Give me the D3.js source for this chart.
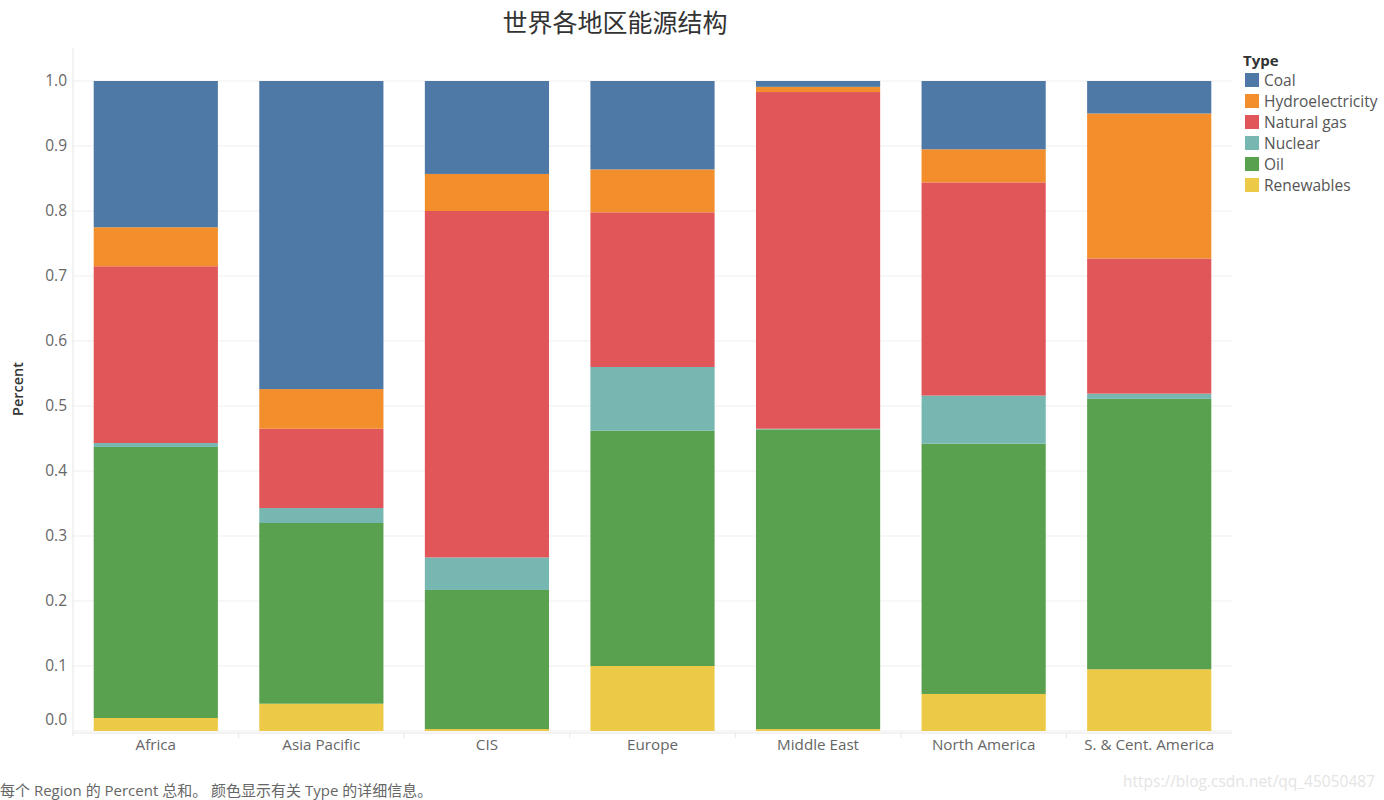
<!DOCTYPE html>
<html><head><meta charset="utf-8">
<script src="https://cdn.jsdelivr.net/npm/d3@7"></script>
<style>
body{margin:0;background:#fff;}
text{font-family:"Open Sans","Noto Sans","Noto Sans CJK SC",sans-serif;}
</style></head>
<body><svg id="c" width="1384" height="800"></svg>
<script>
const regions = ["Africa","Asia Pacific","CIS","Europe","Middle East","North America","S. & Cent. America"];
const types = ["Coal","Hydroelectricity","Natural gas","Nuclear","Oil","Renewables"];
const stackOrder = ["Renewables","Oil","Nuclear","Natural gas","Hydroelectricity","Coal"];
const colors = ["#4e79a7","#f28e2b","#e15759","#76b7b2","#59a14f","#edc948"];
// values per region, in the order of `regions`
const coal       = [0.225,0.474,0.143,0.136,0.009,0.105,0.050];
const hydro      = [0.060,0.061,0.057,0.066,0.008,0.051,0.223];
const naturalGas = [0.272,0.122,0.533,0.238,0.518,0.328,0.208];
const nuclear    = [0.006,0.023,0.050,0.098,0.001,0.074,0.008];
const oil        = [0.417,0.278,0.214,0.362,0.461,0.385,0.416];
const renewables = [0.020,0.042,0.003,0.100,0.003,0.057,0.095];
const yTicks = [0,0.1,0.2,0.3,0.4,0.5,0.6,0.7,0.8,0.9,1.0];

const seriesMap = {"Coal":coal,"Hydroelectricity":hydro,"Natural gas":naturalGas,"Nuclear":nuclear,"Oil":oil,"Renewables":renewables};
const table = regions.map((r,i)=>{const o={region:r}; types.forEach(t=>o[t]=seriesMap[t][i]); return o;});

const svg = d3.select("#c");
const mLeft = 73, mRight = 1232, mTop = 48;
const x = d3.scaleBand().domain(regions).range([mLeft,mRight]).paddingInner(0.25).paddingOuter(0.125);
const y = d3.scaleLinear().domain([0,1]).range([731,81]);
const color = d3.scaleOrdinal().domain(types).range(colors);

// gridlines
svg.append("g").selectAll("line").data(yTicks).join("line")
  .attr("x1",mLeft).attr("x2",mRight).attr("y1",d=>y(d)).attr("y2",d=>y(d))
  .attr("stroke","#efefef").attr("stroke-width",1);

// stacked bars
const stack = d3.stack().keys(stackOrder);
const layers = stack(table);
svg.append("g").selectAll("g").data(layers).join("g")
  .attr("fill",d=>color(d.key))
  .selectAll("rect").data(d=>d).join("rect")
  .attr("x",d=>x(d.data.region)).attr("width",x.bandwidth())
  .attr("y",d=>y(d[1])).attr("height",d=>y(d[0])-y(d[1]));

// y axis
const yAxis = svg.append("g").attr("transform",`translate(${mLeft},0)`)
  .call(d3.axisLeft(y).tickValues(yTicks).tickFormat(d3.format(".1f")).tickSize(0).tickPadding(6));
yAxis.select(".domain").remove();
yAxis.selectAll("text").attr("fill","#666").attr("font-size",15.5)
  .attr("dy",d=>d===0?"-0.4em":"0.32em");
svg.append("line").attr("x1",mLeft).attr("x2",mLeft).attr("y1",mTop).attr("y2",736).attr("stroke","#e6e6e6");

// x axis
svg.append("line").attr("x1",mLeft).attr("x2",mRight).attr("y1",733).attr("y2",733).attr("stroke","#e6e6e6");
svg.append("g").selectAll("line").data(regions.slice(1)).join("line")
  .attr("x1",d=>x(d)-x.step()*0.125).attr("x2",d=>x(d)-x.step()*0.125)
  .attr("y1",733).attr("y2",738).attr("stroke","#e6e6e6");
const xAxis = svg.append("g").attr("transform",`translate(0,733)`)
  .call(d3.axisBottom(x).tickSize(0).tickPadding(6));
xAxis.select(".domain").remove();
xAxis.selectAll("text").attr("fill","#666").attr("font-size",15.2);

// axis title
svg.append("text").attr("transform","translate(23,389) rotate(-90)").attr("text-anchor","middle")
  .attr("font-size",14.5).attr("font-weight","600").attr("fill","#333").text("Percent");

// title
svg.append("text").attr("x",615).attr("y",32).attr("text-anchor","middle")
  .attr("font-family","Noto Sans CJK SC").attr("font-size",25).attr("fill","#333").text("世界各地区能源结构");

// legend
const lg = svg.append("g");
lg.append("text").attr("x",1243).attr("y",66).attr("font-size",15).attr("font-weight","bold").attr("fill","#333").text("Type");
const items = lg.selectAll("g.it").data(types).join("g").attr("class","it")
  .attr("transform",(d,i)=>`translate(1245,${73+i*21})`);
items.append("rect").attr("width",14).attr("height",14).attr("fill",d=>color(d));
items.append("text").attr("x",19).attr("y",12.5).attr("font-size",15.5).attr("fill","#555").text(d=>d);

// footer
svg.append("text").attr("x",0).attr("y",796).attr("font-family","Noto Sans CJK SC").attr("font-size",15).attr("fill","#666")
  .text("每个 Region 的 Percent 总和。 颜色显示有关 Type 的详细信息。");
svg.append("text").attr("x",1375).attr("y",787).attr("text-anchor","end").attr("font-family","Liberation Sans,Arial")
  .attr("font-size",15.5).attr("fill","#e4e4e4").text("https://blog.csdn.net/qq_45050487");
</script></body></html>
